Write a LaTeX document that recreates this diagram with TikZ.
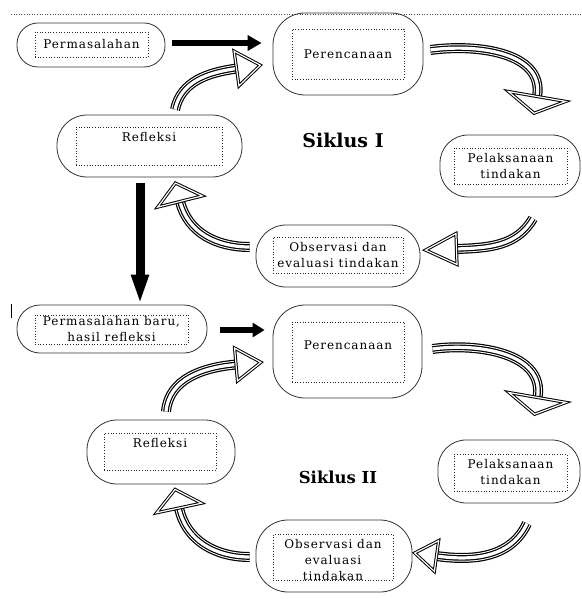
\documentclass[tikz,border=0pt]{standalone}
\usepackage{fontspec}
\setmainfont{DejaVu Serif}[LetterSpace=8]
\newfontfamily\sikfont{DejaVu Serif}
\usepackage{tikz}
\usetikzlibrary{arrows.meta}
\usetikzlibrary{decorations.markings}

\begin{document}
\begin{tikzpicture}[
x = 1pt, y = 1pt,
outrect/.style={rectangle, draw = black!80, line width = 0.8pt, rounded corners = 28pt},
inrect/.style={rectangle, align = center, draw = black!85, dotted, line width = 0.7pt,
inner sep = 0pt, font = \fontsize{12}{16}\selectfont},
siktext/.style={font = \sikfont\bfseries\fontsize{19}{23}\selectfont},
boldarr/.style={-{Triangle[length = 14pt, width = 15pt]}, line width = 6.5pt, draw = black},
hollowarr/.style 2 args={
preaction={draw = black, line width = 10pt},
preaction={draw = white, line width = 7.6pt},
preaction={draw = black, line width = 5.6pt},
draw = white, line width = 3.2pt,
postaction={decorate, decoration={markings, mark = at position 0.999 with {
\draw[draw = black, fill = white, line width = 1pt, double = white, double distance = 1.2pt]
(0,-#2/2) -- (#1,0) -- (0,#2/2) -- cycle;}}}}
]
\useasboundingbox (0,0) rectangle (581,-599);

\draw[dotted, line width = 0.6pt, black!70] (11,-14) -- (581,-14);
\draw[line width = 0.6pt] (11,-304) -- (11,-318);

\node[outrect, minimum width = 148pt, minimum height = 44pt, rounded corners = 21pt] (perm1) at (91,-45) {};
\node[inrect, minimum width = 113pt, minimum height = 25pt] (perm1txt) at (91.5,-44.5) {Permasalahan};

\node[outrect, minimum width = 150pt, minimum height = 82pt, rounded corners = 32pt] (per1) at (348,-54) {};
\node[inrect, minimum width = 112pt, minimum height = 50pt] (per1txt) at (348,-54) {Perencanaan};

\node[outrect, minimum width = 185pt, minimum height = 62pt, rounded corners = 30pt] (ref1) at (149.5,-146) {};
\node[inrect, minimum width = 146pt, minimum height = 38pt, text depth = 18pt] (ref1txt) at (149,-146) {Refleksi};

\node[siktext] (sik1) at (343,-140) {Siklus I};

\node[outrect, minimum width = 140pt, minimum height = 62pt] (pel1) at (510,-166) {};
\node[inrect, minimum width = 113pt, minimum height = 36pt] (pel1txt) at (510.5,-166) {Pelaksanaan\\tindakan};

\node[outrect, minimum width = 164pt, minimum height = 62pt, rounded corners = 30pt] (obs1) at (338,-256) {};
\node[inrect, minimum width = 130pt, minimum height = 36pt] (obs1txt) at (338,-255) {Observasi dan\\evaluasi tindakan};

\node[outrect, minimum width = 190pt, minimum height = 48pt, rounded corners = 23pt] (perm2) at (112,-329) {};
\node[inrect, minimum width = 153pt, minimum height = 29pt] (perm2txt) at (111.5,-329.5) {Permasalahan baru,\\hasil refleksi};

\node[outrect, minimum width = 149pt, minimum height = 93pt, rounded corners = 32pt] (per2) at (347.5,-351.5) {};
\node[inrect, minimum width = 112pt, minimum height = 60pt, text depth = 14pt] (per2txt) at (348,-352) {Perencanaan};

\node[outrect, minimum width = 148pt, minimum height = 64pt, rounded corners = 30pt] (ref2) at (161,-452) {};
\node[inrect, minimum width = 112pt, minimum height = 37pt, text depth = 17pt] (ref2txt) at (160,-451.5) {Refleksi};

\node[siktext, font = \sikfont\bfseries\fontsize{16.5}{20}\selectfont] (sik2) at (338,-477) {Siklus II};

\node[outrect, minimum width = 142pt, minimum height = 63pt] (pel2) at (509,-471.5) {};
\node[inrect, minimum width = 113pt, minimum height = 37pt] (pel2txt) at (510.5,-472.5) {Pelaksanaan\\tindakan};

\node[outrect, minimum width = 156pt, minimum height = 72pt, rounded corners = 32pt] (obs2) at (334,-556) {};
\node[inrect, minimum width = 120pt, minimum height = 45pt, text height = 46pt, text depth = -1pt] (obs2txt) at (333,-557.5) {Observasi dan\\evaluasi\\tindakan};

\draw[boldarr] ([xshift = 7pt, yshift = 2pt]perm1.east) -- ([xshift = -11pt, yshift = 11pt]per1.west);
\draw[boldarr, line width = 9pt, -{Triangle[length = 30pt, width = 16pt]}] ([xshift = -9.5pt, yshift = -6pt]ref1.south) -- ([xshift = 28pt]perm2.north);
\draw[boldarr, line width = 6pt, -{Triangle[length = 12pt, width = 14pt]}] ([xshift = 13pt, yshift = -1pt]perm2.east) -- ([xshift = -8pt, yshift = 21.5pt]per2.west);

\draw[hollowarr = {24}{35}] ([xshift = 25.5pt, yshift = 5pt]ref1.north) to[out = 78, in = 188] ([xshift = -36pt, yshift = -14.5pt]per1.west);
\draw[hollowarr = {17}{58}] ([xshift = 7pt, yshift = 4pt]per1.east) to[out = 8, in = 80] ([xshift = 27pt, yshift = 38pt]pel1.north);
\draw[hollowarr = {31}{31}] ([xshift = 23pt, yshift = -21pt]pel1.south) to[out = 240, in = 2] ([xshift = 36pt, yshift = 7pt]obs1.east);
\draw[hollowarr = {19}{46}] ([xshift = -6pt, yshift = 9pt]obs1.west) to[out = 180, in = 284] ([xshift = 30.5pt, yshift = -24pt]ref1.south);

\draw[hollowarr = {25}{33}] ([xshift = 5pt, yshift = 8pt]ref2.north) to[out = 85, in = 185] ([xshift = -36.5pt, yshift = -13pt]per2.west);
\draw[hollowarr = {17}{58}] ([xshift = 10pt, yshift = 2.5pt]per2.east) to[out = 8, in = 80] ([xshift = 28.5pt, yshift = 42pt]pel2.north);
\draw[hollowarr = {22}{31}] ([xshift = 18pt, yshift = -20pt]pel2.south) to[out = 245, in = -8] ([xshift = 24pt]obs2.east);
\draw[hollowarr = {19}{46}] ([xshift = -6pt, yshift = -1pt]obs2.west) to[out = 180, in = 282] ([xshift = 18pt, yshift = -23.5pt]ref2.south);

\end{tikzpicture}
\end{document}
